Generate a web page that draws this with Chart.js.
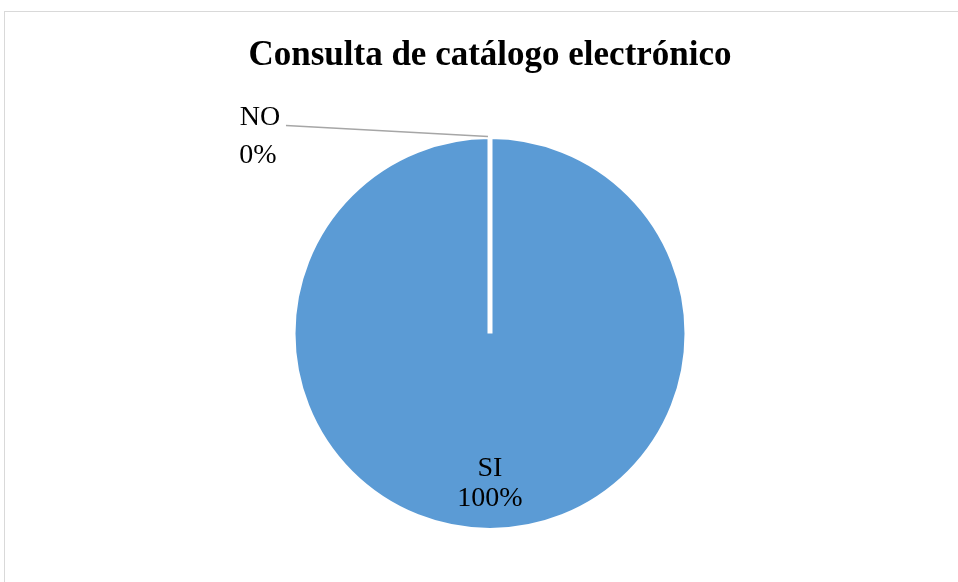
<!DOCTYPE html>
<html>
<head>
<meta charset="utf-8">
<script src="https://cdn.jsdelivr.net/npm/chart.js@4"></script>
<style>
  html, body { margin: 0; padding: 0; background: #fff; }
  #wrap { position: relative; width: 958px; height: 582px; overflow: hidden; }
  #frame { position: absolute; left: 4px; top: 11px; width: 980px; height: 600px; border: 1px solid #d9d9d9; }
  #pie { position: absolute; left: 0; top: 0; }
</style>
</head>
<body>
<div id="wrap">
  <div id="frame"></div>
  <canvas id="pie" width="958" height="582"></canvas>
</div>
<script>
const chartTitle = "Consulta de catálogo electrónico";
const categories = ["SI", "NO"];
const percentages = [100, 0];
const sliceColors = ["#5B9BD5", "#ED7D31"];

// labels like Excel: SI inside, NO outside with a leader line
const pieLabels = {
  id: "pieLabels",
  afterDatasetsDraw(chart) {
    const c = chart.ctx;
    const arcs = chart.getDatasetMeta(0).data;
    c.save();
    c.font = "28px 'Liberation Serif', 'Times New Roman', serif";
    c.fillStyle = "#000";
    c.textAlign = "center";
    c.textBaseline = "middle";
    arcs.forEach((arc, i) => {
      const lines = [categories[i], percentages[i] + "%"];
      if (percentages[i] > 0) {
        const mid = (arc.startAngle + arc.endAngle) / 2;
        const r = arc.outerRadius * 0.76;
        const x = arc.x + Math.cos(mid) * r;
        const y = arc.y + Math.sin(mid) * r;
        c.fillText(lines[0], x, y - 15);
        c.fillText(lines[1], x, y + 15);
      } else {
        const px = arc.x + Math.cos(arc.startAngle) * arc.outerRadius;
        const py = arc.y + Math.sin(arc.startAngle) * arc.outerRadius;
        const lx = px - 230, ly = py;
        c.fillText(lines[0], lx, ly - 19);
        c.fillText(lines[1], lx - 2, ly + 19);
        c.strokeStyle = "#a6a6a6";
        c.lineWidth = 1.5;
        c.beginPath();
        c.moveTo(lx + 26, py - 11);
        c.lineTo(px - 2, py);
        c.stroke();
      }
    });
    c.restore();
  }
};

new Chart(document.getElementById("pie"), {
  type: "pie",
  data: {
    labels: categories,
    datasets: [{
      data: percentages,
      backgroundColor: sliceColors,
      borderColor: "#ffffff",
      borderWidth: 5
    }]
  },
  options: {
    responsive: false,
    animation: false,
    layout: { padding: { left: 22, right: 0, top: 0, bottom: 49 } },
    plugins: {
      legend: { display: false },
      tooltip: { enabled: false },
      title: {
        display: true,
        text: chartTitle,
        color: "#000",
        font: { family: "'Liberation Serif', 'Times New Roman', serif", size: 35, weight: "bold" },
        padding: { top: 35, bottom: 57 }
      }
    }
  },
  plugins: [pieLabels]
});
</script>
</body>
</html>
